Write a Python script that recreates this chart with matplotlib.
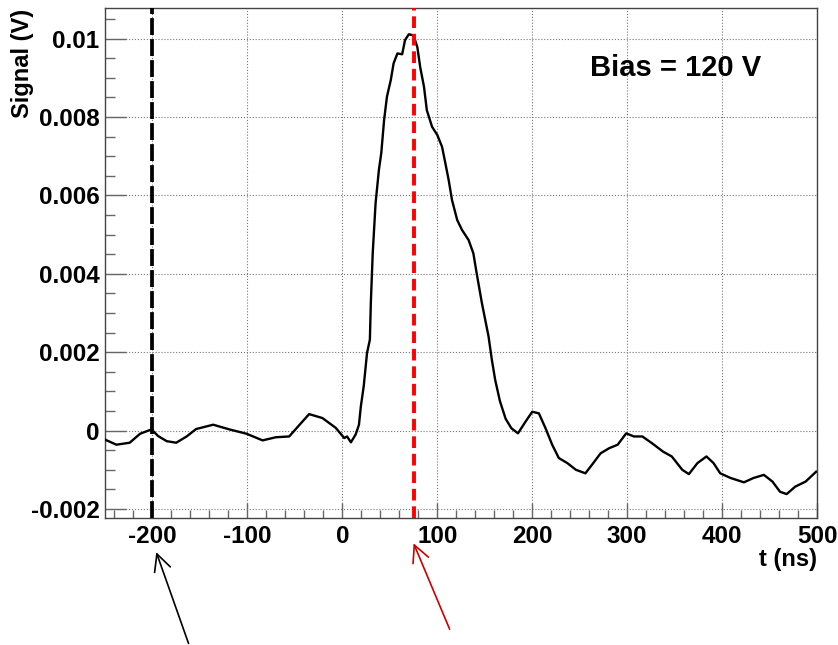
import numpy as np
import matplotlib
matplotlib.use('Agg')
import matplotlib.pyplot as plt
from matplotlib.ticker import MultipleLocator, FuncFormatter

plt.rcParams['font.family'] = ['Liberation Sans', 'DejaVu Sans']
plt.rcParams['font.weight'] = 'bold'

# waveform: time (ns), signal (V)
t = [-250, -238, -224, -213, -201, -194, -185, -175, -164, -154, -136, -119, -101, -84, -70, -56,
     -45, -35, -21, -7, 2, 5, 9, 14, 17.5, 19.5, 22.5, 26, 29, 30, 32, 35, 38.5, 41, 44, 47, 51,
     54, 58, 63, 66, 70, 75, 79, 82, 86, 89, 94.5, 100, 105, 108.5, 112, 115.5, 121, 126, 133,
     138, 141.5, 147, 154, 157.5, 161, 166, 172, 178, 185, 193, 200, 207, 214, 221, 228, 237,
     246, 256, 263, 272, 281, 290, 299, 307, 316, 326, 338, 347, 358, 365, 374, 383.5, 391, 398,
     409, 423, 433, 444, 453, 461, 468, 477, 488, 499]
signal = [-0.00023, -0.00036, -0.00031, -0.00008, 0.00003, -0.00014, -0.00027, -0.00031, -0.00015,
          0.00004, 0.00015, 0.00003, -0.00008, -0.00025, -0.00017, -0.00015, 0.00015, 0.00042,
          0.00032, 0.00007, -0.00019, -0.00015, -0.0003, -0.0001, 0.00015, 0.00062, 0.00113,
          0.00198, 0.00232, 0.00326, 0.00453, 0.0058, 0.00665, 0.00708, 0.00793, 0.00852, 0.00894,
          0.00937, 0.00962, 0.0096, 0.00996, 0.01011, 0.01008, 0.00978, 0.00927, 0.00877, 0.00817,
          0.00775, 0.00754, 0.00724, 0.00682, 0.00639, 0.00588, 0.00537, 0.00512, 0.00486,
          0.00452, 0.00401, 0.00325, 0.0024, 0.0018, 0.00129, 0.00075, 0.0003, 0.00006, -0.00007,
          0.00023, 0.00048, 0.00044, 0.00006, -0.00036, -0.0007, -0.00083, -0.001, -0.00109,
          -0.00087, -0.00058, -0.00045, -0.00036, -0.00007, -0.00015, -0.00015, -0.00032,
          -0.00054, -0.00066, -0.001, -0.00111, -0.00083, -0.00066, -0.00083, -0.00109, -0.00121,
          -0.00132, -0.00121, -0.00113, -0.0013, -0.00156, -0.00162, -0.00143, -0.0013, -0.00105]

t_start = -200   # black marker
t_peak = 75      # red marker
bias_text = 'Bias = 120 V'

fig = plt.figure(figsize=(8.38, 6.45), dpi=100)
ax = fig.add_axes([0.1253, 0.1969, 0.8497, 0.7907])

ax.plot(t, signal, color='black', lw=1.7, zorder=3)

ax.axvline(t_start, color='black', lw=2.7, ls=(0, (4.5, 1.1)), zorder=4)
ax.axvline(t_peak, color='#ff0000', lw=2.8, ls=(0, (3, 1.5)), zorder=4)

ax.set_xlim(-250, 500)
ax.set_ylim(-0.00223, 0.01078)

ax.xaxis.set_major_locator(MultipleLocator(100))
ax.xaxis.set_minor_locator(MultipleLocator(20))
ax.yaxis.set_major_locator(MultipleLocator(0.002))
ax.yaxis.set_minor_locator(MultipleLocator(0.0005))
ax.yaxis.set_major_formatter(FuncFormatter(lambda v, p: '%g' % round(v, 6)))
ax.xaxis.set_major_formatter(FuncFormatter(lambda v, p: '%d' % v))

ax.tick_params(axis='both', which='both', direction='in', color='#666666', labelsize=17.5)
ax.tick_params(axis='x', which='major', length=11, width=1, pad=5)
ax.tick_params(axis='x', which='minor', length=6, width=1)
ax.tick_params(axis='y', which='major', length=15, width=1, pad=4)
ax.tick_params(axis='y', which='minor', length=7.5, width=1)

ax.grid(True, which='major', ls=':', color='#777777', lw=0.8, zorder=0)
for s in ax.spines.values():
    s.set_color('#444444')
    s.set_linewidth(1)

ax.text(0.681, 0.867, bias_text, transform=ax.transAxes, fontsize=21, fontweight='bold',
        ha='left', va='baseline')

fig.text(0.027, 0.987, 'Signal (V)', rotation=90, ha='center', va='top', fontsize=17, fontweight='bold')
fig.text(0.975, 0.133, 't (ns)', ha='right', va='center', fontsize=17, fontweight='bold')

# arrows under the axis pointing at the two markers
trans = ax.get_xaxis_transform()
ax.annotate('', xy=(t_start + 4, -0.067), xycoords=trans, xytext=(t_start + 38, -0.246), textcoords=trans,
            annotation_clip=False,
            arrowprops=dict(arrowstyle='->, head_length=0.6, head_width=0.3', color='black', lw=1.2,
                            mutation_scale=20, shrinkA=0, shrinkB=0))
ax.annotate('', xy=(t_peak, -0.0496), xycoords=trans, xytext=(t_peak + 38, -0.218), textcoords=trans,
            annotation_clip=False,
            arrowprops=dict(arrowstyle='->, head_length=0.6, head_width=0.3', color='#cc0000', lw=1.2,
                            mutation_scale=20, shrinkA=0, shrinkB=0))

plt.savefig('out.png', dpi=100)
